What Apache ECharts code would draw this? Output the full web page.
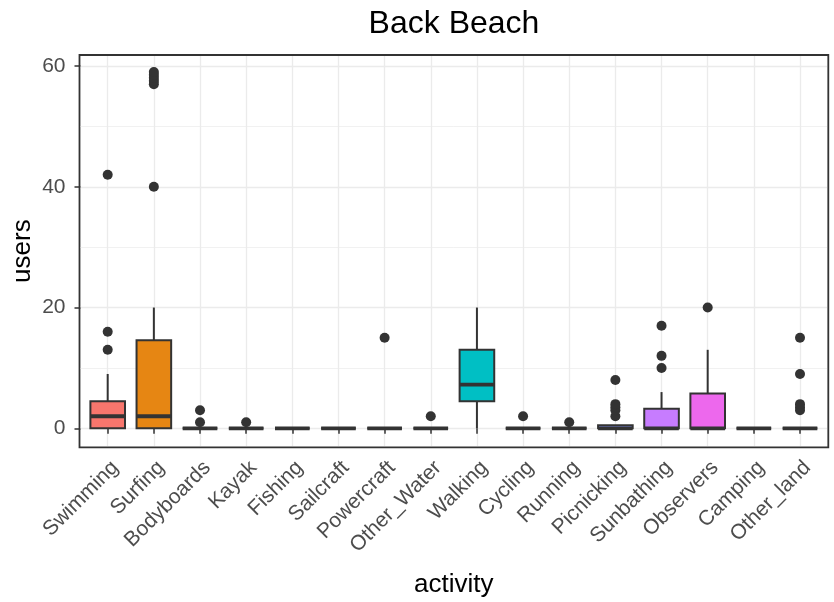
<!DOCTYPE html>
<html><head><meta charset="utf-8">
<script src="https://cdn.jsdelivr.net/npm/echarts@6/dist/echarts.min.js"></script>
<style>html,body{margin:0;padding:0;background:#fff}#c{width:834px;height:602px}</style>
</head><body><div id="c"></div>
<script>
const categories = ['Swimming','Surfing','Bodyboards','Kayak','Fishing','Sailcraft','Powercraft','Other_Water','Walking','Cycling','Running','Picnicking','Sunbathing','Observers','Camping','Other_land'];
const whiskerLow  = [0, 0,    0, 0, 0, 0, 0, 0, 0,    0, 0, 0,   0,    0,    0, 0];
const q1          = [0, 0,    0, 0, 0, 0, 0, 0, 4.5,  0, 0, 0,   0,    0,    0, 0];
const median      = [2, 2,    0, 0, 0, 0, 0, 0, 7.25, 0, 0, 0,   0,    0,    0, 0];
const q3          = [4.5, 14.6, 0, 0, 0, 0, 0, 0, 13, 0, 0, 0.5, 3.25, 5.75, 0, 0];
const whiskerHigh = [9, 20,   0, 0, 0, 0, 0, 0, 20,   0, 0, 0.5, 6,    13,   0, 0];
const outliers = [
  ['Swimming',13],['Swimming',16],['Swimming',42],
  ['Surfing',40],['Surfing',57],['Surfing',57.5],['Surfing',58],['Surfing',58.5],['Surfing',59],
  ['Bodyboards',1],['Bodyboards',3],
  ['Kayak',1],
  ['Powercraft',15],
  ['Other_Water',2],
  ['Cycling',2],
  ['Running',1],
  ['Picnicking',2],['Picnicking',3],['Picnicking',3.5],['Picnicking',4],['Picnicking',8],
  ['Sunbathing',10],['Sunbathing',12],['Sunbathing',17],
  ['Observers',20],
  ['Other_land',3],['Other_land',3.5],['Other_land',4],['Other_land',9],['Other_land',15]
];
const yTicks = [0, 20, 40, 60];
const fills = ['#F8766D','#E68613','#CD9600','#ABA300','#7CAE00','#0CB702','#00BE67','#00C19A','#00BFC4','#00B8E7','#00A9FF','#8494FF','#C77CFF','#ED68ED','#FF61CC','#FF68A1'];

const boxData = categories.map((c, i) => [i, whiskerLow[i], q1[i], median[i], q3[i], whiskerHigh[i]]);

const LINE = '#333333';
function renderBox(params, api) {
  const i = api.value(0);
  const bw = api.size([1, 0])[0] * 0.75;
  const hw = bw / 2;
  const x = api.coord([i, 0])[0];
  const yLow = api.coord([i, api.value(1)])[1];
  const yQ1 = api.coord([i, api.value(2)])[1];
  const yMed = api.coord([i, api.value(3)])[1];
  const yQ3 = api.coord([i, api.value(4)])[1];
  const yHigh = api.coord([i, api.value(5)])[1];
  const ls = { stroke: LINE, lineWidth: 2 };
  return {
    type: 'group',
    children: [
      { type: 'line', shape: { x1: x, y1: yHigh, x2: x, y2: yQ3 }, style: ls },
      { type: 'line', shape: { x1: x, y1: yQ1, x2: x, y2: yLow }, style: ls },
      { type: 'rect', shape: { x: x - hw, y: yQ3, width: bw, height: yQ1 - yQ3 },
        style: { fill: fills[i], stroke: LINE, lineWidth: 2 } },
      { type: 'line', shape: { x1: x - hw, y1: yMed, x2: x + hw, y2: yMed },
        style: { stroke: LINE, lineWidth: 3.8 } }
    ]
  };
}

const chart = echarts.init(document.getElementById('c'), null, { renderer: 'canvas' });
const FONT = 'Liberation Sans, Arial, sans-serif';
chart.setOption({
  animation: false,
  backgroundColor: '#ffffff',
  textStyle: { fontFamily: FONT },
  title: {
    text: 'Back Beach', left: 454, top: 8, padding: 0, textAlign: 'center',
    textStyle: { fontSize: 32, fontWeight: 'normal', color: '#000', fontFamily: FONT }
  },
  grid: [
    { left: 79.5, top: 55, width: 748.8, height: 392.3, show: true, borderColor: LINE, borderWidth: 1.8,
      backgroundColor: 'rgba(0,0,0,0)', containLabel: false, outerBoundsMode: 'none' },
    { left: 80.5, top: 66, width: 746.5, height: 362.3, containLabel: false, outerBoundsMode: 'none' },
    { left: 107.7, top: 56, width: 692.3, height: 390, containLabel: false, outerBoundsMode: 'none' }
  ],
  xAxis: [
    { gridIndex: 0, type: 'value', show: false, min: 0, max: 1 },
    { gridIndex: 1, type: 'value', show: false, min: 0, max: 1 },
    { gridIndex: 2, type: 'category', data: categories, boundaryGap: false,
      axisLine: { show: false },
      axisTick: { show: true, interval: 0, length: 5.5, lineStyle: { color: LINE, width: 1.5 } },
      axisLabel: { interval: 0, rotate: 45, align: 'right', verticalAlign: 'top', margin: 11,
        fontSize: 21, color: '#4d4d4d', fontFamily: FONT },
      splitLine: { show: true, interval: 0, lineStyle: { color: '#EBEBEB', width: 1.3 } },
      name: 'activity', nameLocation: 'middle', nameGap: 126,
      nameTextStyle: { fontSize: 26, color: '#000', fontFamily: FONT }
    }
  ],
  yAxis: [
    { gridIndex: 0, type: 'value', min: -2.95, max: 61.95,
      axisLine: { show: false }, axisTick: { show: false }, axisLabel: { show: false }, splitLine: { show: false },
      name: 'users', nameLocation: 'middle', nameGap: 44,
      nameTextStyle: { fontSize: 26, color: '#000', fontFamily: FONT } },
    { gridIndex: 1, type: 'value', min: yTicks[0], max: yTicks[yTicks.length - 1], interval: 20,
      axisLine: { show: false },
      axisTick: { show: true, length: 6, lineStyle: { color: LINE, width: 1.5 } },
      axisLabel: { color: '#4d4d4d', fontSize: 21, margin: 15, fontFamily: FONT },
      splitLine: { show: true, lineStyle: { color: '#EBEBEB', width: 1.3 } },
      minorTick: { show: false, splitNumber: 2 },
      minorSplitLine: { show: true, lineStyle: { color: '#EBEBEB', width: 0.7 } } },
    { gridIndex: 2, type: 'value', min: -2.93, max: 61.66, show: false }
  ],
  series: [
    { type: 'custom', name: 'box', coordinateSystem: 'cartesian2d', xAxisIndex: 2, yAxisIndex: 2,
      data: boxData, encode: { x: 0, y: [1, 2, 3, 4, 5] }, renderItem: renderBox, clip: false, silent: true, z: 2 },
    { type: 'scatter', name: 'outliers', xAxisIndex: 2, yAxisIndex: 2, data: outliers,
      symbol: 'circle', symbolSize: 10, itemStyle: { color: LINE, opacity: 1 }, silent: true, z: 3 }
  ]
});
</script></body></html>
